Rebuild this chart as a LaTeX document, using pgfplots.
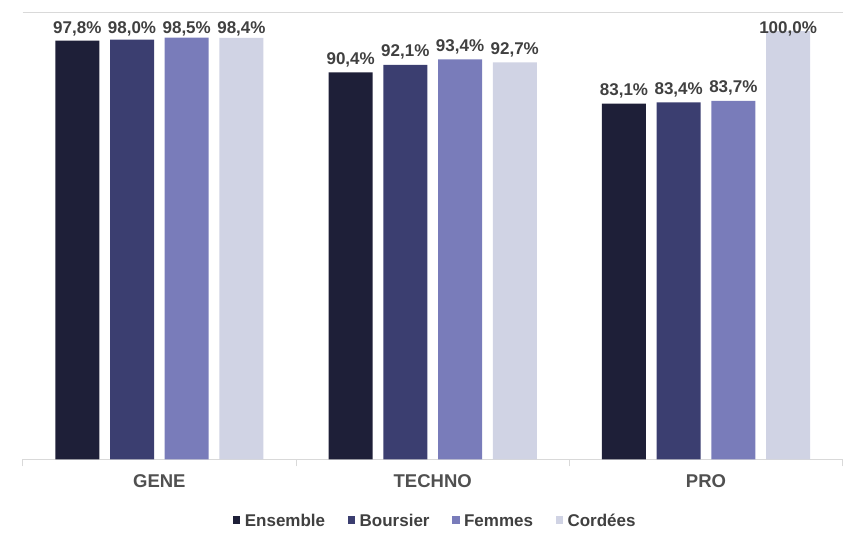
\documentclass[border=0pt]{standalone}
\usepackage{pgfplots}
\pgfplotsset{compat=1.18}
\usepackage{fontspec}
\setmainfont{Liberation Sans}
\definecolor{cEns}{RGB}{30,31,56}
\definecolor{cBou}{RGB}{59,62,112}
\definecolor{cFem}{RGB}{121,124,186}
\definecolor{cCor}{RGB}{208,211,228}
\definecolor{gline}{RGB}{217,217,217}
\definecolor{txtd}{RGB}{64,64,64}
\definecolor{txtc}{RGB}{80,80,80}
\begin{document}
\begin{tikzpicture}
\useasboundingbox (0,0) rectangle (847pt,536pt);
\begin{axis}[
  at={(22.7pt,76.5pt)}, anchor=south west,
  scale only axis, width=820pt, height=447.2pt,
  ybar=10.7pt, bar width=44pt,
  xmin=-0.5, xmax=2.5, ymin=0, ymax=104.4,
  axis x line=box, axis y line=none,
  axis line style={gline, line width=0.8pt},
  xtick={0,1,2}, xticklabels={GENE,TECHNO,PRO},
  xtick pos=bottom,
  major tick length=0pt,
  minor xtick={-0.5,0.5,1.5,2.5},
  minor tick length=7pt,
  tick align=outside,
  minor tick style={gline, line width=0.8pt},
  xticklabel style={font=\fontsize{18.5}{22}\selectfont\bfseries, text=txtc, yshift=-12pt},
  /pgf/number format/assume math mode=true,
  visualization depends on={y \as \rawy},
  nodes near coords={\pgfmathprintnumber[fixed,fixed zerofill,precision=1,use comma]{\pgfplotspointmeta}\%},
  every node near coord/.append style={font=\fontsize{17}{20}\selectfont\bfseries, text=txtd, yshift={min(0,(97.45-\rawy))*4.284pt+2pt}},
  legend columns=4,
  legend style={at={(0.5046,-0.135)}, anchor=center, draw=none, fill=none,
    font=\fontsize{17}{20}\selectfont\bfseries, text=txtd,
    /tikz/every even column/.append style={column sep=18pt},
    nodes={inner xsep=4.5pt}},
  legend image code/.code={\fill[#1,draw=none] (0pt,-4pt) rectangle (7.5pt,3.5pt);},
  clip=false,
]
\addplot[fill=cEns, draw=none] coordinates {(0,97.8) (1,90.4) (2,83.1)};
\addplot[fill=cBou, draw=none] coordinates {(0,98.0) (1,92.1) (2,83.4)};
\addplot[fill=cFem, draw=none] coordinates {(0,98.5) (1,93.4) (2,83.7)};
\addplot[fill=cCor, draw=none] coordinates {(0,98.4) (1,92.7) (2,100.0)};
\legend{\strut Ensemble,\strut Boursier,\strut Femmes,\strut Cordées}
\end{axis}
\end{tikzpicture}
\end{document}
